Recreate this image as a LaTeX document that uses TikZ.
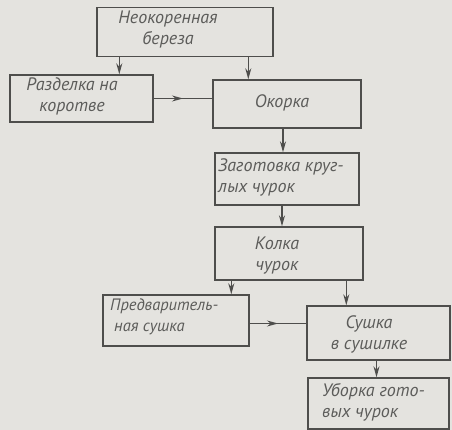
\documentclass[tikz,border=0pt]{standalone}
\usepackage{fontspec}
\setmainfont{PT Sans}
\usetikzlibrary{arrows.meta,decorations.markings}
\definecolor{paper}{RGB}{228,227,223}
\definecolor{ink}{RGB}{78,78,76}
\definecolor{txt}{RGB}{92,92,90}
\tikzset{
  box/.style={draw=ink, line width=1.4pt, inner sep=0pt},
  lbl/.style={text=txt, font=\fontsize{18}{21}\selectfont\itshape, inner sep=0pt},
  arr/.style={draw=ink, line width=1.3pt, -{Stealth[length=11pt,width=6pt]}},
  midarr/.style={draw=ink, line width=1.3pt, postaction={decorate},
    decoration={markings, mark=at position 0.5 with {\arrow{Stealth[length=11pt,width=6pt]}}}}
}
\begin{document}
\begin{tikzpicture}[x=1pt,y=-1pt]
\fill[paper] (0,0) rectangle (452,430);
\useasboundingbox (0,0) rectangle (452,430);
% boxes
\node[box, minimum width=176pt, minimum height=49pt] (b1) at (185,32) {};
\node[box, minimum width=143pt, minimum height=47pt] (b2) at (81.5,98.5) {};
\node[box, minimum width=148pt, minimum height=48pt] (b3) at (287,104) {};
\node[box, minimum width=144pt, minimum height=52pt] (b4) at (287,179) {};
\node[box, minimum width=148pt, minimum height=53pt] (b5) at (289,253.5) {};
\node[box, minimum width=146pt, minimum height=51pt] (b6) at (176,320.5) {};
\node[box, minimum width=143pt, minimum height=54pt] (b7) at (378.5,333) {};
\node[box, minimum width=141pt, minimum height=51pt] (b8) at (378.5,403.5) {};
% texts
\node[lbl, align=center] (t1) at (168,30) {Неокоренная\\береза};
\node[lbl, align=center] (t2) at (72,96) {Разделка на\\коротве};
\node[lbl] (t3) at (282,103) {Окорка};
\node[lbl, align=left, anchor=west] (t4) at (218,177) {Заготовка круг-\\лых чурок};
\node[lbl, align=center] (t5) at (277,256) {Колка\\чурок};
\node[lbl, align=left, anchor=west, font=\fontsize{16.5}{21}\selectfont\itshape] (t6) at (110,317) {Предваритель-\\\hspace*{4pt}ная сушка};
\node[lbl, align=center] (t7) at (369,334) {Сушка\\в сушилке};
\node[lbl, align=left, anchor=west] (t8) at (322,402) {Уборка гото-\\вых чурок};
% connectors
\draw[arr] ([xshift=23pt]b1.south west) -- ([xshift=23pt]b1.south west |- b2.north);
\draw[arr] ([xshift=152pt]b1.south west) -- ([xshift=152pt]b1.south west |- b3.north);
\draw[midarr] (b2.east) -- (b2.east -| b3.west);
\draw[arr] ([xshift=-4pt]b3.south) -- ([xshift=-4pt]b3.south |- b4.north);
\draw[arr] ([xshift=-5pt]b4.south) -- ([xshift=-5pt]b4.south |- b5.north);
\draw[arr] ([xshift=17pt]b5.south west) -- ([xshift=17pt]b5.south west |- b6.north);
\draw[arr] ([xshift=132pt]b5.south west) -- ([xshift=132pt]b5.south west |- b7.north);
\draw[midarr] ([yshift=-3pt]b6.east) -- ([yshift=-3pt]b6.east -| b7.west);
\draw[arr] ([xshift=-2pt]b7.south) -- ([xshift=-2pt]b7.south |- b8.north);
\end{tikzpicture}
\end{document}
